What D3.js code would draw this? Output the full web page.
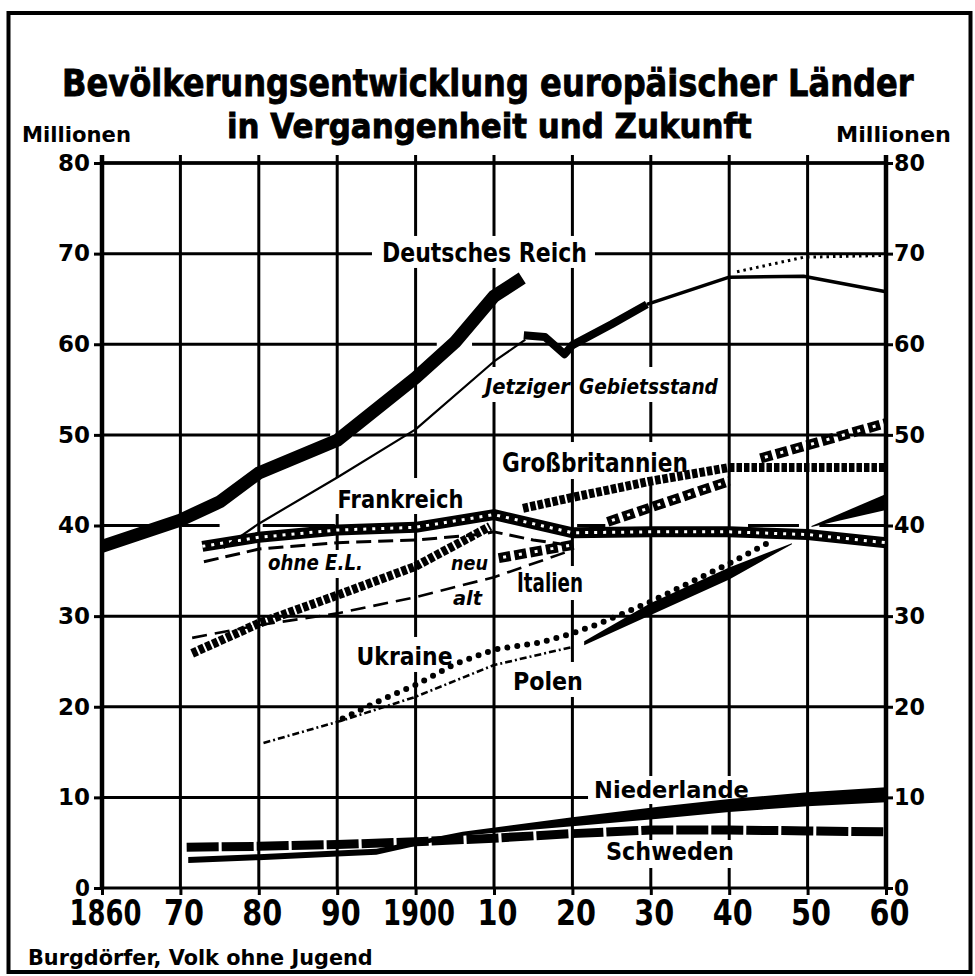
<!DOCTYPE html>
<html>
<head>
<meta charset="utf-8">
<script src="https://cdn.jsdelivr.net/npm/d3@7"></script>
<style>
  body { margin: 0; background: #fff; }
  svg { display: block; }
</style>
</head>
<body>
<script>
const W = 975;
const H = 976;
const FONT = '"DejaVu Sans", Verdana, sans-serif';

/*
 * ========================================================================
 *  Data (millions of inhabitants, [year, value])
 * ========================================================================
 */
const xTicks = [1860, 1870, 1880, 1890, 1900, 1910, 1920, 1930, 1940, 1950, 1960];
const xTickLabels = ["1860", "70", "80", "90", "1900", "10", "20", "30", "40", "50", "60"];
const yTicks = [0, 10, 20, 30, 40, 50, 60, 70, 80];

// Deutsches Reich
const reichAlt = [[1860, 37.7], [1870, 40.6], [1875, 42.6], [1880, 45.8], [1890, 49.4], [1900, 56.3], [1905, 60.2], [1910, 65.3], [1913.6, 67.3]];
const reichJetzt = [[1875.5, 37.5], [1880, 40.2], [1890, 45.3], [1900, 50.6], [1910, 58.1], [1914, 60.5]];
const reichNachkrieg = [[1913.8, 61.0], [1916.5, 60.8], [1919, 58.9], [1920, 59.9], [1925, 62.2], [1929.5, 64.4]];
const reichZukunft = [[1929.5, 64.4], [1940, 67.4], [1949.5, 67.5], [1960, 65.8]];
const reichZukunftHoch = [[1941, 68.0], [1949.5, 69.6], [1960, 69.8]];

// Frankreich
const frankreich = [[1872.8, 37.7], [1880, 38.7], [1890, 39.5], [1900, 39.8], [1910, 41.2], [1920, 39.2], [1930, 39.3], [1940, 39.3], [1950, 39.0], [1960, 38.1]];
const frankreichOhneEL = [[1873, 36.0], [1880, 37.4], [1890, 38.1], [1900, 38.4], [1908, 39.0], [1910, 39.3], [1915, 38.4], [1919, 37.9]];

// Großbritannien
const grossbritannienA = [[1871.5, 25.9], [1880, 29.2], [1890, 32.3], [1900, 35.5], [1909.5, 39.9]];
const grossbritannienB = [[1913.7, 41.9], [1920, 43.1], [1930, 44.9], [1940, 46.4], [1950, 46.4], [1960, 46.4]];

// Italien
const italienAlt = [[1871.5, 27.6], [1880, 29.0], [1890, 30.3], [1900, 32.1], [1910, 34.3], [1920, 37.3]];
const italienNeuA = [[1910.6, 36.4], [1920.3, 37.9]];
const italienNeuB = [[1924.5, 40.4], [1940, 44.9]];
const italienNeuC = [[1944, 47.4], [1960, 51.3]];

// Ukraine / Polen
const ukraine = [[1890.7, 18.7], [1895.5, 20.7], [1900, 22.4], [1905, 24.7], [1910, 26.3], [1916, 27.1], [1920, 28.1], [1923.5, 29.2], [1930, 31.6], [1940, 35.8], [1945, 38.1]];
const polen = [[1880.6, 16.0], [1890.7, 18.5], [1900, 21.1], [1910, 24.6], [1920, 26.6]];
const polenZukunftA = [[1921.5, 27.0], [1930, 30.8], [1940, 34.7], [1948, 38.0]];
const polenZukunftB = [[1950.5, 39.9], [1960, 42.6]];

// Niederlande / Schweden
const niederlande = [[1871, 3.1], [1880, 3.4], [1890, 3.8], [1895, 4.0], [1900, 4.9], [1906, 6.0], [1920, 7.3], [1931, 8.3], [1940, 9.1], [1950, 9.8], [1960, 10.3]];
const schweden = [[1870.8, 4.5], [1880, 4.6], [1890, 4.8], [1900, 5.1], [1910, 5.5], [1920, 6.0], [1930, 6.4], [1940, 6.4], [1950, 6.3], [1960, 6.2]];

/*
 * ========================================================================
 *  Scales / SVG
 * ========================================================================
 */
const x = d3.scaleLinear().domain([1860, 1960]).range([102, 886]);
const y = d3.scaleLinear().domain([0, 80]).range([888, 163]);

const svg = d3.select("body").append("svg")
  .attr("width", W)
  .attr("height", H)
  .style("font-family", FONT)
  .style("font-weight", "bold");

svg.append("rect").attr("width", W).attr("height", H).attr("fill", "#fff");

// outer frame
svg.append("rect")
  .attr("x", 8.5).attr("y", 13)
  .attr("width", 962).attr("height", 959)
  .attr("fill", "none").attr("stroke", "#000").attr("stroke-width", 4);

// squeeze a text horizontally around its anchor so that it is `len` px wide
function squeeze(sel, lenFn) {
  sel.each(function (d, i) {
    const natural = this.getComputedTextLength();
    const len = typeof lenFn === "function" ? lenFn(d, i) : lenFn;
    const ax = (+this.getAttribute("x") || 0) + (parseFloat(this.getAttribute("dx")) || 0);
    const k = len / natural;
    d3.select(this).attr("transform", `translate(${ax},0) scale(${k},1) translate(${-ax},0)`);
  });
  return sel;
}

/*
 * ========================================================================
 *  Labels (title, units, source)
 * ========================================================================
 */
function fitText(txt, px, py, len, size, opts = {}) {
  const t = svg.append("text")
    .attr("x", px).attr("y", py)
    .attr("font-size", size)
    .attr("font-style", opts.italic ? "italic" : null)
    .attr("fill", "#000")
    .attr("stroke", opts.stroke ? "#000" : null)
    .attr("stroke-width", opts.stroke || null)
    .text(txt);
  return squeeze(t, len);
}

fitText("Bevölkerungsentwicklung europäischer Länder", 62, 96, 852, 38, { stroke: 0.9 });
fitText("in Vergangenheit und Zukunft", 227, 138, 525, 34, { stroke: 0.9 });
fitText("Millionen", 22, 142, 109, 21);
fitText("Millionen", 836, 142, 115, 21);
fitText("Burgdörfer, Volk ohne Jugend", 28, 965, 345, 21);

/*
 * ========================================================================
 *  Grid
 * ========================================================================
 */
// gaps (in years) where the drawn horizontal rule is broken
const gridGaps = {
  40: [[1866.3, 1870.2], [1875, 1880.5], [1889.7, 1920.6], [1924.2, 1942.4], [1948.9, 1951.5]],
  50: [[1889.1, 1892]],
  60: [[1902.7, 1907.2]]
};

function ruleSegments(v) {
  const segs = [];
  let start = 1860;
  (gridGaps[v] || []).forEach((g) => {
    segs.push([start, g[0]]);
    start = g[1];
  });
  segs.push([start, 1960]);
  return segs;
}

const grid = svg.append("g").attr("stroke", "#000");

yTicks.forEach((v) => {
  ruleSegments(v).forEach((s) => {
    grid.append("line")
      .attr("x1", x(s[0])).attr("x2", x(s[1]))
      .attr("y1", y(v)).attr("y2", y(v))
      .attr("stroke-width", 3);
  });
});

grid.selectAll(".vline")
  .data(xTicks)
  .enter()
  .append("line")
  .attr("class", "vline")
  .attr("x1", (d) => x(d)).attr("x2", (d) => x(d))
  .attr("y1", y(80) - 8)
  .attr("y2", y(0))
  .attr("stroke-width", (d) => (d === 1860 || d === 1960 ? 4.5 : 3));

// axes: only ticks + labels
const axisFont = (sel, size) =>
  sel.selectAll("text")
    .attr("font-family", FONT)
    .attr("font-weight", "bold")
    .attr("font-size", size)
    .attr("fill", "#000");

const yLeft = svg.append("g")
  .attr("transform", `translate(${x(1860)},0)`)
  .call(d3.axisLeft(y).tickValues(yTicks).tickSize(8).tickPadding(4));
yLeft.select(".domain").remove();
yLeft.selectAll("line").attr("stroke", "#000").attr("stroke-width", 3);
squeeze(axisFont(yLeft, 23), (d) => (d >= 10 ? 32 : 15));

const yRight = svg.append("g")
  .attr("transform", `translate(${x(1960)},0)`)
  .call(d3.axisRight(y).tickValues(yTicks).tickSize(7).tickPadding(1));
yRight.select(".domain").remove();
yRight.selectAll("line").attr("stroke", "#000").attr("stroke-width", 3);
squeeze(axisFont(yRight, 23), (d) => (d >= 10 ? 31 : 15));

const xAxis = svg.append("g")
  .attr("transform", `translate(0,${y(0)})`)
  .call(
    d3.axisBottom(x)
      .tickValues(xTicks)
      .tickFormat((d, i) => xTickLabels[i])
      .tickSize(7)
      .tickPadding(4)
  );
xAxis.select(".domain").remove();
xAxis.selectAll("line").attr("stroke", "#000").attr("stroke-width", 3);
squeeze(axisFont(xAxis, 36).attr("dx", 3), (d, i) => (xTickLabels[i].length > 2 ? 72 : 40));

/*
 * ========================================================================
 *  Series labels (white knock-out behind, text on top later)
 * ========================================================================
 */
// pad = [left, right, top, bottom] of the white area behind a label
const seriesLabels = [
  { text: "Deutsches Reich", year: 1895.71, value: 69.08, len: 205, size: 26, pad: [10, 8, 26, 6] },
  { text: "Jetziger", year: 1908.85, value: 54.51, len: 85, size: 22, italic: true, pad: [2, 0, 27, 8] },
  { text: "Gebietsstand", year: 1920.84, value: 54.51, len: 139, size: 22, italic: true, pad: [2, 3, 27, 8] },
  { text: "Großbritannien", year: 1911.02, value: 45.9, len: 186, size: 27, pad: [3, 4, 30, 7] },
  { text: "Frankreich", year: 1890.05, value: 41.93, len: 126, size: 25, pad: [3, 3, 30, 6] },
  { text: "ohne E.L.", year: 1881.17, value: 35.09, len: 95, size: 21, italic: true, pad: [2, 3, 20, 8] },
  { text: "neu", year: 1904.52, value: 35.09, len: 37, size: 20, italic: true },
  { text: "alt", year: 1904.77, value: 31.23, len: 29, size: 19, italic: true },
  { text: "Italien", year: 1912.93, value: 32.66, len: 66, size: 26, pad: [4, 5, 26, 8] },
  { text: "Ukraine", year: 1892.47, value: 24.61, len: 96, size: 25, pad: [3, 4, 28, 7] },
  { text: "Polen", year: 1912.42, value: 21.85, len: 70, size: 25, pad: [3, 4, 28, 7] },
  { text: "Niederlande", year: 1922.76, value: 9.93, len: 155, size: 23, pad: [6, 16, 22, 6] },
  { text: "Schweden", year: 1924.29, value: 3.09, len: 128, size: 25, pad: [3, 4, 20, 8] }
];

svg.append("g")
  .selectAll("rect")
  .data(seriesLabels.filter((d) => d.pad))
  .enter()
  .append("rect")
  .attr("x", (d) => x(d.year) - d.pad[0])
  .attr("y", (d) => y(d.value) - d.pad[2])
  .attr("width", (d) => d.len + d.pad[0] + d.pad[1])
  .attr("height", (d) => d.pad[2] + d.pad[3])
  .attr("fill", "#fff");

svg.append("line")
  .attr("x1", x(1860)).attr("x2", x(1960))
  .attr("y1", y(80)).attr("y2", y(80))
  .attr("stroke", "#000").attr("stroke-width", 3.5);

/*
 * ========================================================================
 *  Lines
 * ========================================================================
 */
const line = d3.line().x((d) => x(d[0])).y((d) => y(d[1]));
const plot = svg.append("g").attr("fill", "none");

function drawLine(data, width, opts = {}) {
  return plot.append("path")
    .attr("d", line(data))
    .attr("stroke", opts.color || "#000")
    .attr("stroke-width", width)
    .attr("stroke-dasharray", opts.dash || null)
    .attr("stroke-dashoffset", opts.offset || null)
    .attr("stroke-linecap", opts.cap || "butt")
    .attr("stroke-linejoin", "round");
}

// tapering band: one width (px) per data point
function drawBand(data, widths) {
  const area = d3.area()
    .x((d) => x(d[0]))
    .y0((d, i) => y(d[1]) + widths[i] / 2)
    .y1((d, i) => y(d[1]) - widths[i] / 2);
  return plot.append("path").attr("d", area(data)).attr("fill", "#000");
}

// Niederlande under Schweden
drawBand(niederlande, [6, 6, 6, 6, 5, 4, 9, 12, 13, 14, 15]);
drawLine(schweden, 9, { dash: "32,3" });

// Italien
drawLine(italienAlt, 2.6, { dash: "15,8" });
[italienNeuA, italienNeuB, italienNeuC].forEach((seg) => {
  drawLine(seg, 10, { dash: "12,4" });
  drawLine(seg, 3, { color: "#fff", dash: "3,13", offset: -4.5 });
});

// Großbritannien
drawLine(grossbritannienA, 9, { dash: "5.5,2" });
drawLine(grossbritannienB, 9, { dash: "5.5,2" });

// Frankreich
drawLine(frankreichOhneEL, 3, { dash: "15,7" });
drawLine(frankreich, 11);
drawLine(frankreich, 3, { color: "#fff", dash: "3,6" });

// Polen & Ukraine
drawLine(polen, 2.6, { dash: "7,3,2,3" });
drawBand(polenZukunftA, [4, 12, 12, 1]);
drawBand(polenZukunftB, [1, 16]);
drawLine(ukraine, 6, { dash: "0,10", cap: "round" });

// Deutsches Reich
drawLine(reichAlt, 13);
drawLine(reichJetzt, 2.2);
drawLine(reichNachkrieg, 8);
drawLine(reichZukunft, 3.5);
drawLine(reichZukunftHoch, 3, { dash: "2.5,4" });

/*
 * ========================================================================
 *  Series label text
 * ========================================================================
 */
const labelText = svg.append("g")
  .selectAll("text")
  .data(seriesLabels)
  .enter()
  .append("text")
  .attr("x", (d) => x(d.year))
  .attr("y", (d) => y(d.value))
  .attr("font-size", (d) => d.size)
  .attr("font-style", (d) => (d.italic ? "italic" : null))
  .attr("fill", "#000")
  .text((d) => d.text);
squeeze(labelText, (d) => d.len);
</script>
</body>
</html>
